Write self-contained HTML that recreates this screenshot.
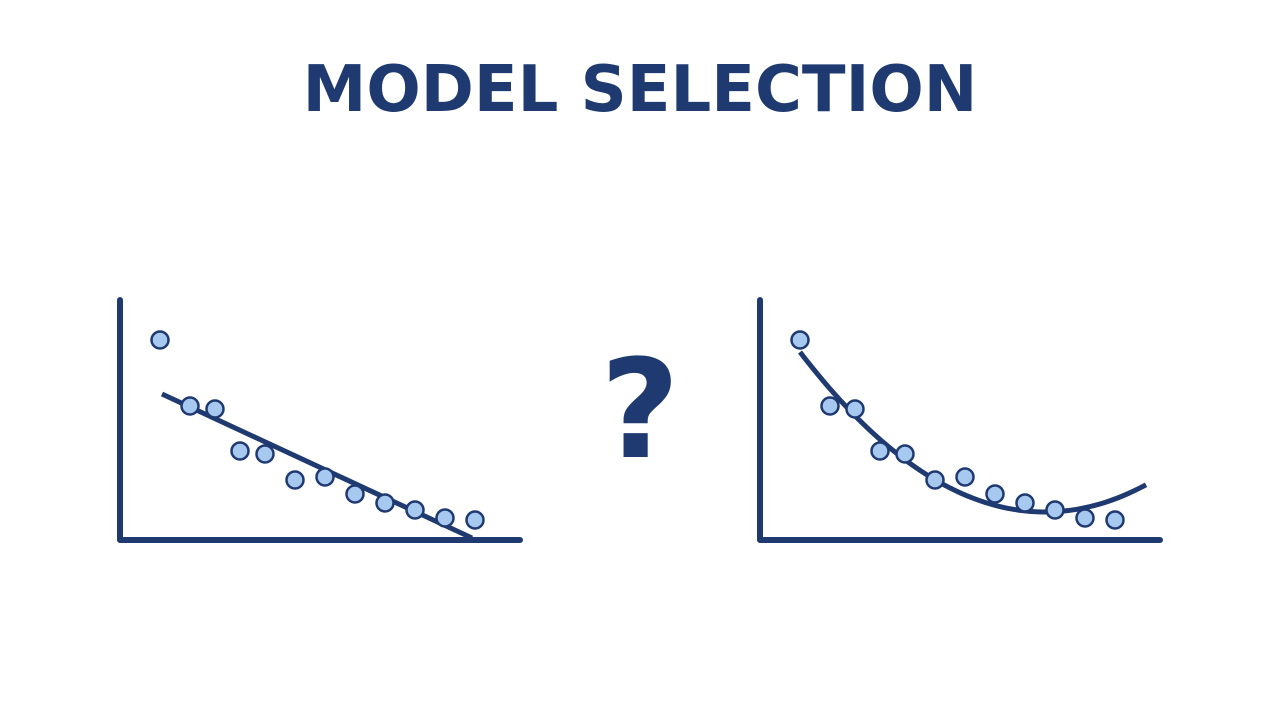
<!DOCTYPE html>
<html><head><meta charset="utf-8"><style>
html,body{margin:0;padding:0;background:#fff;width:1280px;height:720px;overflow:hidden}
svg{display:block}
</style></head><body>
<svg id="chart" width="1280" height="720">
<text x="640" y="111" text-anchor="middle" font-family="DejaVu Sans, sans-serif" font-weight="bold" font-size="64" fill="#1f3a70">MODEL SELECTION</text>
<text x="640" y="457" text-anchor="middle" font-family="DejaVu Sans, sans-serif" font-weight="bold" font-size="137" fill="#1f3a70">?</text>
</svg>
<script>
const xValues=[1,1.75,2.375,3,3.625,4.375,5.125,5.875,6.625,7.375,8.125,8.875];
const yValues=[5,3.35,3.275,2.225,2.15,1.5,1.575,1.15,0.925,0.75,0.55,0.5];
const linearFit=[[1.05,3.65],[8.8,0.05]];
const quadFit={vertexX:7.125,vertexY:0.7,a:0.1066,xStart:1,xEnd:9.65};
const NS='http://www.w3.org/2000/svg';
const svg=document.getElementById('chart');
const C='#1f3a70';
function mk(t,a){const e=document.createElementNS(NS,t);for(const k in a)e.setAttribute(k,a[k]);svg.appendChild(e);return e;}
function panel(ox,name,fit){
  const sx=v=>ox+v*40, sy=v=>540-v*40;
  const ax=mk('path',{d:`M${ox} 300 L${ox} 540 L${ox+400} 540`,fill:'none',stroke:C,'stroke-width':6,'stroke-linecap':'round','stroke-linejoin':'round'});
  
  
  let d='';
  if(fit==='linear'){d=`M${sx(linearFit[0][0])} ${sy(linearFit[0][1])} L${sx(linearFit[1][0])} ${sy(linearFit[1][1])}`;}
  else{for(let i=0;i<=60;i++){const x=quadFit.xStart+(quadFit.xEnd-quadFit.xStart)*i/60;const y=quadFit.vertexY+quadFit.a*(x-quadFit.vertexX)**2;d+=(i?'L':'M')+sx(x)+' '+sy(y)+' ';}}
  const ln=mk('path',{d:d,fill:'none',stroke:C,'stroke-width':5});
  
  
  xValues.forEach((x,i)=>{
    const c=mk('circle',{cx:sx(x),cy:sy(yValues[i]),r:8.5,fill:'#a7c9f0',stroke:C,'stroke-width':2.5});
    
    
  });
}
panel(120,'linear-model','linear');
panel(760,'quadratic-model','quad');
</script>
</body></html>
